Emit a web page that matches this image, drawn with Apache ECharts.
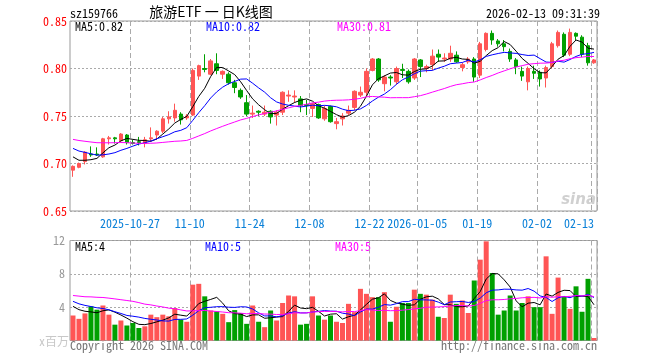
<!DOCTYPE html>
<html><head><meta charset="utf-8">
<script src="https://cdn.jsdelivr.net/npm/echarts@6/dist/echarts.min.js"></script>
<style>html,body{margin:0;padding:0;background:#fff}#c{width:660px;height:360px}</style>
</head><body><div id="c"></div>
<script>
const dates = [
'2025-10-13','2025-10-14','2025-10-15','2025-10-16','2025-10-17','2025-10-20','2025-10-21','2025-10-22','2025-10-23','2025-10-24',
'2025-10-27','2025-10-28','2025-10-29','2025-10-30','2025-10-31','2025-11-03','2025-11-04','2025-11-05','2025-11-06','2025-11-07',
'2025-11-10','2025-11-11','2025-11-12','2025-11-13','2025-11-14','2025-11-17','2025-11-18','2025-11-19','2025-11-20','2025-11-21',
'2025-11-24','2025-11-25','2025-11-26','2025-11-27','2025-11-28','2025-12-01','2025-12-02','2025-12-03','2025-12-04','2025-12-05',
'2025-12-08','2025-12-09','2025-12-10','2025-12-11','2025-12-12','2025-12-15','2025-12-16','2025-12-17','2025-12-18','2025-12-19',
'2025-12-22','2025-12-23','2025-12-24','2025-12-25','2025-12-26','2025-12-29','2025-12-30','2025-12-31',
'2026-01-05','2026-01-06','2026-01-07','2026-01-08','2026-01-09','2026-01-12','2026-01-13','2026-01-14','2026-01-15','2026-01-16',
'2026-01-19','2026-01-20','2026-01-21','2026-01-22','2026-01-23','2026-01-26','2026-01-27','2026-01-28','2026-01-29','2026-01-30',
'2026-02-02','2026-02-03','2026-02-04','2026-02-05','2026-02-06','2026-02-09','2026-02-10','2026-02-11','2026-02-12','2026-02-13'];
const opens = [
0.693,0.696,0.702,0.710,0.710,0.707,0.726,0.727,0.724,0.730,
0.722,0.723,0.721,0.726,0.730,0.734,0.747,0.748,0.752,0.748,
0.751,0.792,0.800,0.794,0.805,0.794,0.794,0.785,0.777,0.764,
0.752,0.755,0.752,0.755,0.751,0.754,0.771,0.770,0.768,0.762,
0.758,0.762,0.747,0.760,0.742,0.747,0.753,0.759,0.772,0.775,
0.798,0.810,0.784,0.791,0.786,0.799,0.797,0.790,0.809,0.800,
0.804,0.815,0.810,0.810,0.814,0.801,0.807,0.810,0.793,0.820,
0.837,0.829,0.826,0.818,0.809,0.797,0.786,0.797,0.796,0.790,
0.802,0.824,0.836,0.815,0.837,0.833,0.824,0.806];
const closes = [
0.697,0.700,0.712,0.709,0.709,0.726,0.727,0.726,0.731,0.722,
0.721,0.722,0.725,0.727,0.734,0.747,0.749,0.756,0.746,0.750,
0.798,0.803,0.799,0.808,0.798,0.797,0.785,0.780,0.770,0.752,
0.753,0.754,0.754,0.749,0.754,0.775,0.772,0.771,0.761,0.761,
0.763,0.748,0.758,0.744,0.744,0.750,0.756,0.776,0.775,0.797,
0.810,0.788,0.791,0.790,0.800,0.798,0.786,0.810,0.802,0.802,
0.813,0.812,0.811,0.816,0.807,0.804,0.810,0.791,0.826,0.837,
0.830,0.826,0.823,0.810,0.802,0.792,0.800,0.795,0.789,0.801,
0.826,0.838,0.814,0.838,0.834,0.815,0.806,0.809];
const lows = [
0.686,0.695,0.699,0.707,0.708,0.706,0.720,0.721,0.723,0.720,
0.720,0.719,0.717,0.723,0.725,0.732,0.742,0.744,0.741,0.746,
0.750,0.788,0.796,0.793,0.794,0.789,0.783,0.774,0.768,0.750,
0.748,0.750,0.750,0.742,0.740,0.751,0.765,0.764,0.754,0.751,
0.749,0.747,0.745,0.743,0.736,0.740,0.751,0.756,0.770,0.771,
0.797,0.786,0.776,0.782,0.783,0.790,0.784,0.788,0.791,0.796,
0.798,0.807,0.807,0.807,0.806,0.797,0.805,0.786,0.790,0.818,
0.825,0.823,0.818,0.807,0.794,0.787,0.777,0.789,0.781,0.780,
0.800,0.822,0.812,0.813,0.830,0.812,0.803,0.805];
const highs = [
0.698,0.701,0.713,0.718,0.717,0.727,0.729,0.728,0.732,0.731,
0.725,0.728,0.728,0.738,0.735,0.749,0.755,0.763,0.754,0.752,
0.800,0.804,0.815,0.810,0.816,0.798,0.796,0.788,0.779,0.772,
0.761,0.756,0.761,0.756,0.756,0.776,0.777,0.777,0.771,0.767,
0.764,0.763,0.761,0.761,0.748,0.753,0.761,0.777,0.781,0.800,
0.811,0.811,0.793,0.793,0.802,0.805,0.799,0.811,0.810,0.804,
0.820,0.820,0.816,0.824,0.818,0.806,0.812,0.812,0.828,0.838,
0.840,0.831,0.830,0.821,0.811,0.802,0.802,0.803,0.798,0.803,
0.828,0.840,0.838,0.842,0.838,0.835,0.827,0.810];
const volumes = [
3.0,2.6,3.25,4.1,3.7,4.2,3.1,1.9,2.4,1.8,
2.1,1.5,1.7,3.1,2.8,3.1,2.9,3.9,2.5,2.25,
6.7,6.8,5.3,3.6,3.5,3.2,2.2,3.65,3.3,2.0,
4.2,2.25,1.6,3.6,2.4,4.5,5.4,5.3,1.9,2.0,
5.3,3.0,2.5,3.0,2.25,2.1,4.4,3.4,6.2,5.6,
5.2,5.2,5.8,2.25,4.05,4.5,4.5,6.1,5.6,5.5,
4.9,2.85,2.7,5.5,4.4,4.8,3.3,7.2,9.7,11.9,
8.1,3.1,3.6,5.4,3.6,4.5,5.3,4.0,4.0,10.1,
3.2,7.55,5.3,3.8,6.5,3.45,7.4,0.3];
// sessions before the first visible day (estimated from where the MA lines start)
const priorCloses = [
0.735,0.738,0.733,0.728,0.731,0.726,0.722,0.725,0.729,0.732,0.730,0.727,0.724,0.726,0.729,
0.731,0.736,0.738,0.733,0.730,0.728,0.726,0.724,0.723,0.723,0.718,0.712,0.706,0.702];
const priorVolumes = [
4.8,5.6,4.5,5.2,4.9,5.5,4.6,5.3,4.7,5.05,
6.2,7.1,5.8,6.9,6.4,7.3,6.0,6.6,6.15,6.4,
5.6,5.1,5.5,5.2,5.1,4.6,4.2,4.5,4.2];
const tickDates = ['2025-10-27','2025-11-10','2025-11-24','2025-12-08','2025-12-22','2026-01-05','2026-01-19','2026-02-02','2026-02-13'];
const tickLabels = ['2025-10-27','11-10','11-24','12-08','12-22','2026-01-05','01-19','02-02','02-13'];
const priceTicks = [0.65,0.70,0.75,0.80,0.85];
const volumeTicks = [0,4,8,12];
const priceMaText = ['MA5:0.82','MA10:0.82','MA30:0.81'];
const volumeMaText = ['MA5:4','MA10:5','MA30:5'];

const RED='#ff5555', GREEN='#00a000';
function ma(prior, vals, n){
  const all = prior.concat(vals), off = prior.length;
  return vals.map((v,i)=>{ let s=0; for(let k=off+i-n+1;k<=off+i;k++) s+=all[k]; return +(s/n).toFixed(4); });
}
const MONO = "'Noto Sans Mono CJK SC','DejaVu Sans Mono',monospace";
const showIdx = (idx, val) => tickDates.indexOf(val) >= 0;
const chart = echarts.init(document.getElementById('c'), null, {renderer:'canvas'});
const txt = (x,y,t,fill,font,align,extra)=>Object.assign({type:'text',x:x,y:y,silent:true,style:{text:t,fill:fill,font:font,textAlign:align||'left',align:align||'left',textVerticalAlign:'middle',verticalAlign:'middle'}},extra||{});
const f12 = '12px '+MONO;
chart.setOption({
  animation:false,
  backgroundColor:'#fff',
  grid:[
    {left:70,top:21,width:527,height:190,show:true,borderColor:'#999',borderWidth:1,backgroundColor:'transparent'},
    {left:70,top:240.5,width:527,height:100,show:true,borderColor:'#999',borderWidth:1,backgroundColor:'transparent'}
  ],
  xAxis:[
    {type:'category',gridIndex:0,data:dates,boundaryGap:true,
     axisLine:{show:false},axisTick:{show:false},
     splitLine:{show:true,interval:showIdx,lineStyle:{color:'#aaa',type:[5,3],width:1}},
     axisLabel:{show:true,interval:showIdx,margin:6,color:'#0a80d8',fontFamily:MONO,fontSize:12,alignMaxLabel:'right',
       formatter:(v)=>{const k=tickDates.indexOf(v); if(k<0) return ''; return k===tickDates.length-1?'{b|'+tickLabels[k]+'}':'{a|'+tickLabels[k]+'}';},
       rich:{a:{padding:[0,6,0,0],color:'#0a80d8',fontFamily:MONO,fontSize:12},b:{padding:[0,0,0,0],color:'#0a80d8',fontFamily:MONO,fontSize:12}}}},
    {type:'category',gridIndex:1,data:dates,boundaryGap:true,
     axisLine:{show:false},axisTick:{show:false},axisLabel:{show:false},
     splitLine:{show:true,interval:showIdx,lineStyle:{color:'#aaa',type:[5,3],width:1}}}
  ],
  yAxis:[
    {type:'value',gridIndex:0,min:priceTicks[0],max:priceTicks[priceTicks.length-1],interval:0.05,
     axisLine:{show:false},axisTick:{show:false},
     splitLine:{show:true,lineStyle:{color:'#aaa',type:[2,2],width:1}},
     axisLabel:{color:'#ff0000',fontFamily:MONO,fontSize:12,margin:3,formatter:(v)=>v.toFixed(2)}},
    {type:'value',gridIndex:1,min:volumeTicks[0],max:volumeTicks[volumeTicks.length-1],interval:4,
     axisLine:{show:false},axisTick:{show:false},
     splitLine:{show:true,lineStyle:{color:'#aaa',type:[2,2],width:1}},
     axisLabel:{color:'#999',fontFamily:MONO,fontSize:12,margin:5,formatter:(v)=>v===0?'':String(v)}}
  ],
  series:[
    {type:'candlestick',xAxisIndex:0,yAxisIndex:0,barWidth:4,
     data:opens.map((o,i)=>[o,closes[i],lows[i],highs[i]]),
     itemStyle:{color:RED,color0:GREEN,borderColor:RED,borderColor0:GREEN,borderWidth:1}},
    {type:'line',xAxisIndex:0,yAxisIndex:0,data:ma(priorCloses,closes,5),symbol:'none',lineStyle:{color:'#000',width:1}},
    {type:'line',xAxisIndex:0,yAxisIndex:0,data:ma(priorCloses,closes,10),symbol:'none',lineStyle:{color:'#0000ff',width:1}},
    {type:'line',xAxisIndex:0,yAxisIndex:0,data:ma(priorCloses,closes,30),symbol:'none',lineStyle:{color:'#ff00ff',width:1}},
    {type:'bar',xAxisIndex:1,yAxisIndex:1,barWidth:5,
     data:volumes.map((v,i)=>({value:v,itemStyle:{color:closes[i]>=opens[i]?RED:GREEN}}))},
    {type:'line',xAxisIndex:1,yAxisIndex:1,data:ma(priorVolumes,volumes,5),symbol:'none',lineStyle:{color:'#000',width:1}},
    {type:'line',xAxisIndex:1,yAxisIndex:1,data:ma(priorVolumes,volumes,10),symbol:'none',lineStyle:{color:'#0000ff',width:1}},
    {type:'line',xAxisIndex:1,yAxisIndex:1,data:ma(priorVolumes,volumes,30),symbol:'none',lineStyle:{color:'#ff00ff',width:1}}
  ],
  graphic:[
    txt(70,13,'sz159766','#000',f12),
    txt(211,12,'旅游ETF 一 日K线图','#000',"14px 'Noto Sans CJK SC'",'center'),
    txt(600,13,'2026-02-13 09:31:39','#000',f12,'right'),
    txt(75,26,priceMaText[0],'#000',f12),
    txt(206,26,priceMaText[1],'#0000ff',f12),
    txt(337,26,priceMaText[2],'#ff00ff',f12),
    txt(75,246.5,volumeMaText[0],'#000',f12),
    txt(205,246.5,volumeMaText[1],'#0000ff',f12),
    txt(335,246.5,volumeMaText[2],'#ff00ff',f12),
    txt(39,341,'x百万','#c8c8c8',f12),
    txt(70,345.5,'Copyright 2026 SINA.COM','#777',f12),
    txt(597,345.5,'http://finance.sina.com.cn','#777',f12,'right'),
    txt(596,200,'sina','rgba(150,150,150,0.45)',"italic bold 15px 'DejaVu Sans'",'right')
  ]
});
</script></body></html>
